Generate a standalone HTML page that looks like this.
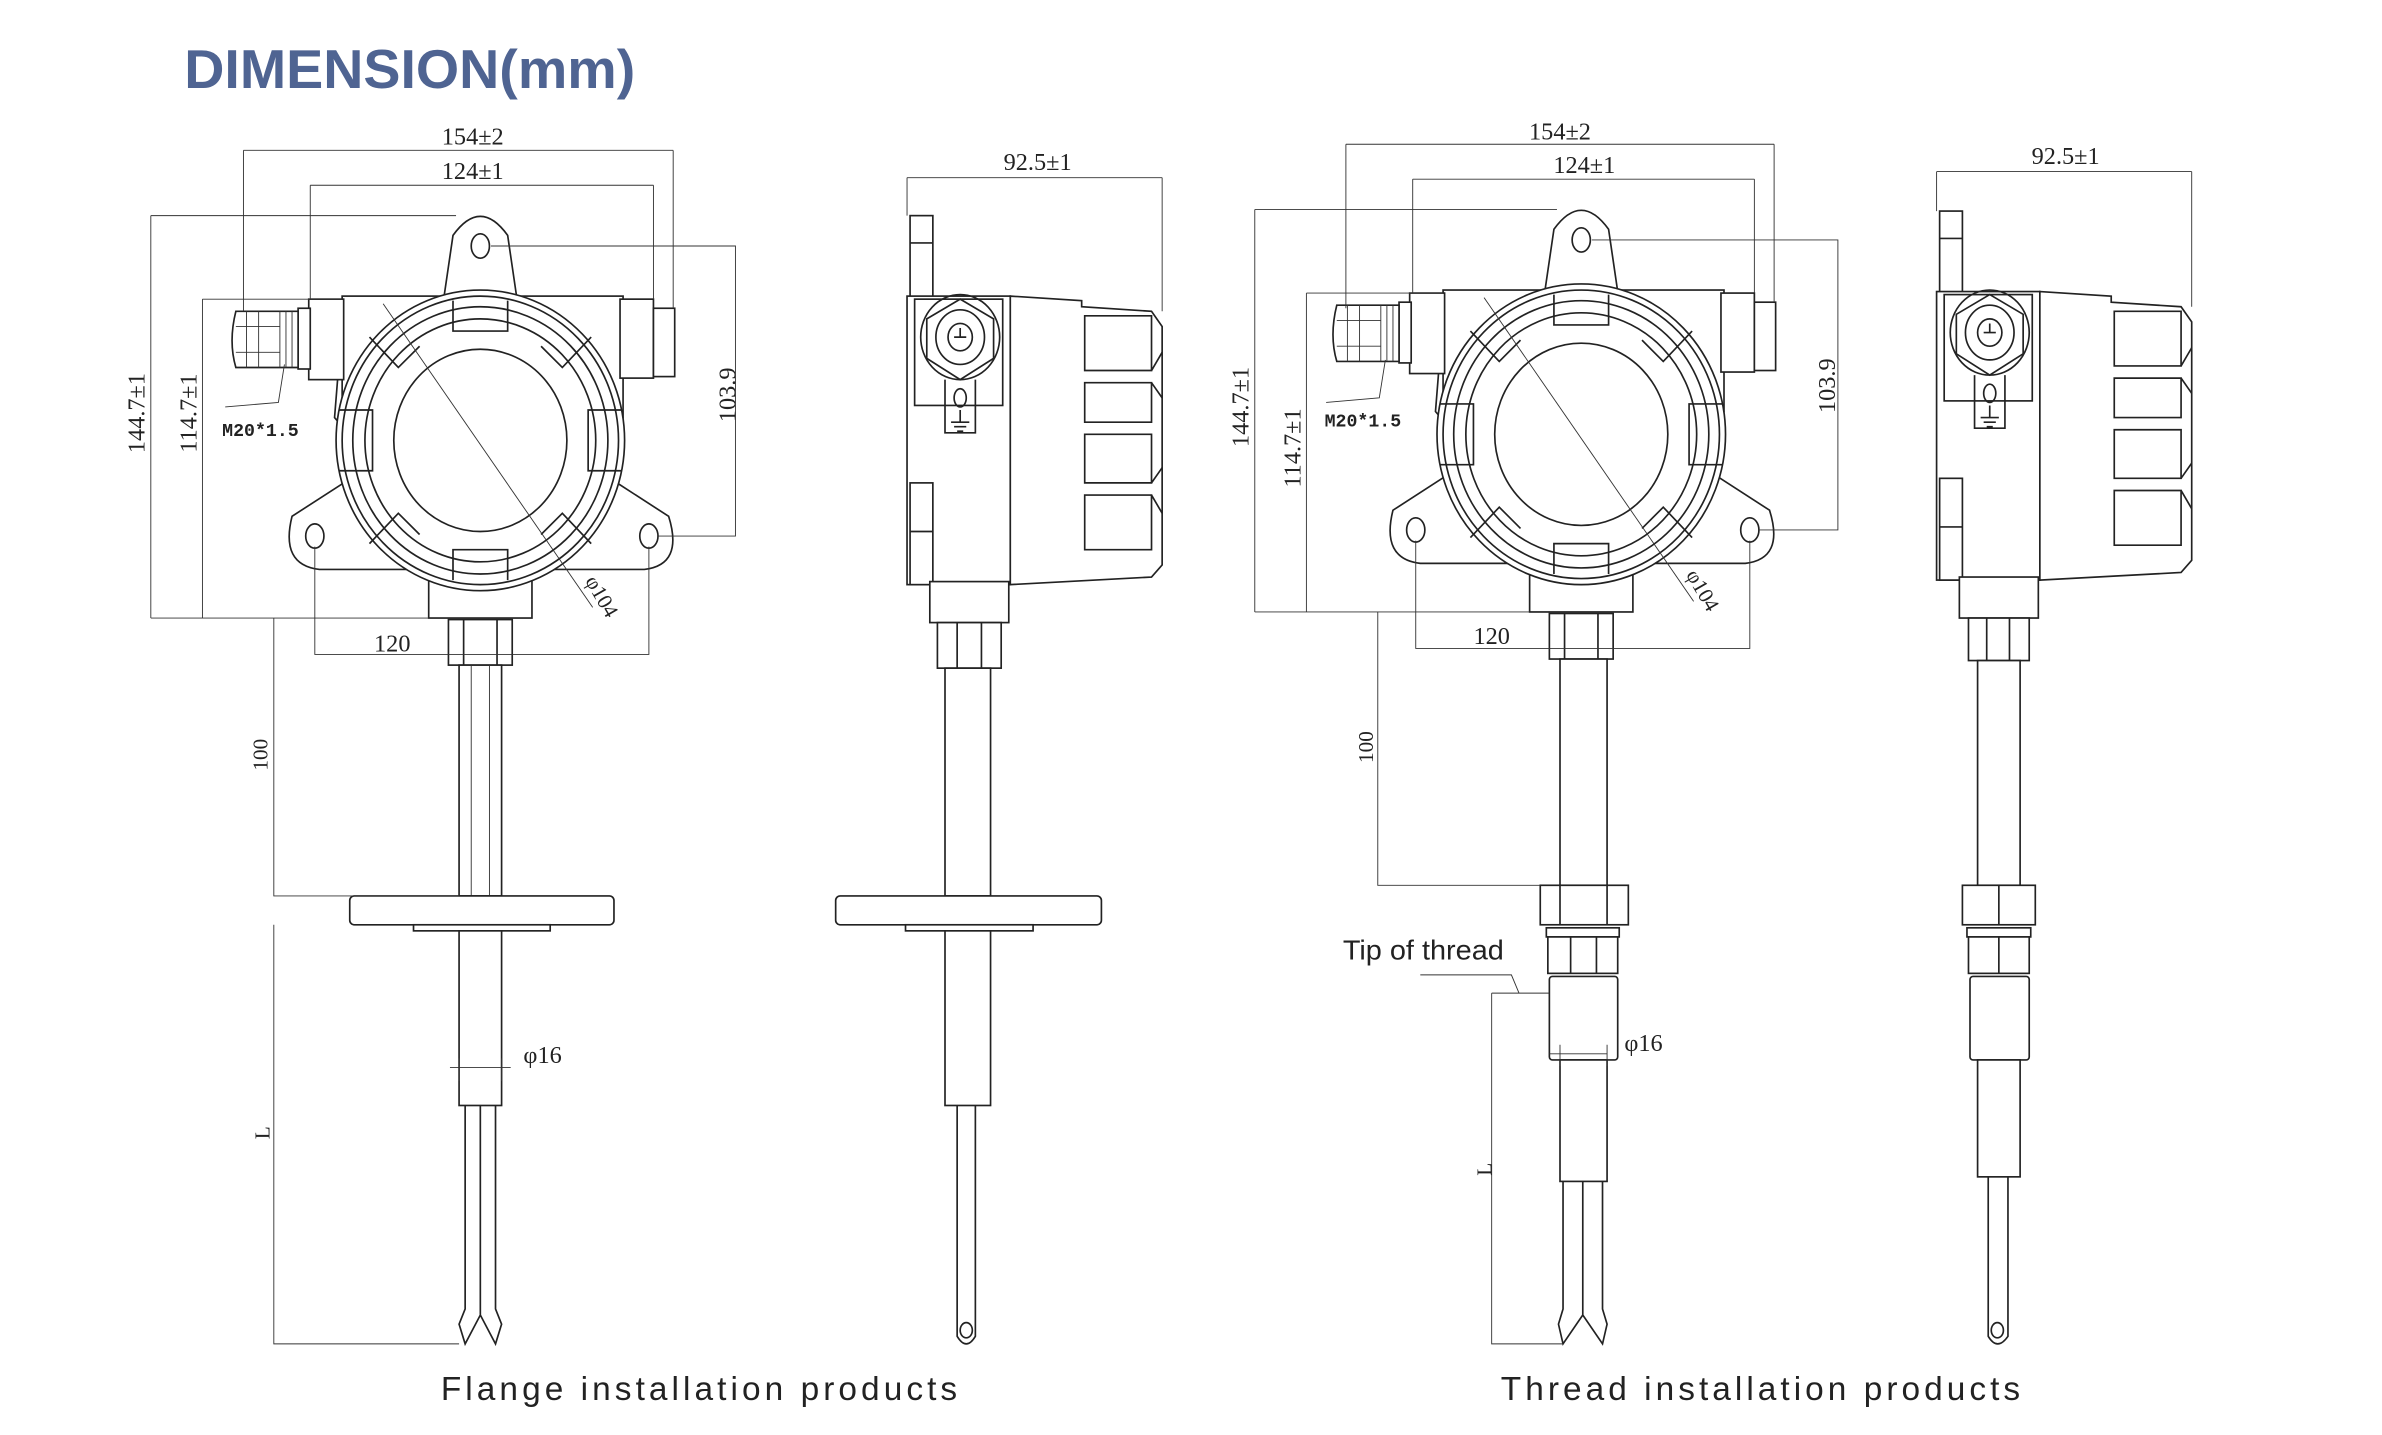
<!DOCTYPE html>
<html><head><meta charset="utf-8"><style>
html,body{margin:0;padding:0;background:#fff;}
svg{display:block;}
text{font-family:"Liberation Serif",serif;fill:#222;}
.s{fill:none;stroke:#222;stroke-width:1.1;}
.t{fill:none;stroke:#333;stroke-width:0.6;}
.w{fill:#fff;stroke:#222;stroke-width:1.1;}
</style></head><body>
<svg width="2382" height="1435" viewBox="0 0 1568 945" xmlns="http://www.w3.org/2000/svg">
<defs>
<g id="fronthead">
  <path class="w" d="M292,196 L298,155 Q316,130 334,155 L340,196 Z"/>
  <ellipse class="s" cx="316" cy="162" rx="6" ry="8"/>
  <path class="w" d="M226,318 L192,340 Q184,372 210,375 L424,375 Q450,372 440,340 L406,318 Z"/>
  <ellipse class="s" cx="207" cy="353" rx="6" ry="8"/>
  <ellipse class="s" cx="427" cy="353" rx="6" ry="8"/>
  <rect class="w" x="225" y="195" width="185" height="80"/>
  <rect class="w" x="408" y="197" width="22" height="52"/>
  <rect class="w" x="430" y="203" width="14" height="45"/>
  <rect class="w" x="203" y="197" width="23" height="53"/>
  <rect class="w" x="196" y="203" width="8" height="40"/>
  <path class="w" d="M155,205 Q150,225 155,242 L196,242 L196,205 Z"/>
  <path class="t" d="M162,205 V242 M170,205 V242 M184,205 V242 M188,205 V242 M192,205 V242 M155,215 H184 M155,232 H184"/>
  <path class="s" d="M222,250 L220,275 L226,282"/>
  <rect class="w" x="282" y="374" width="68" height="33"/>
  <ellipse class="w" cx="316" cy="290" rx="95" ry="99"/>
  <ellipse class="s" cx="316" cy="290" rx="91" ry="95"/>
  <ellipse class="s" cx="316" cy="290" rx="84" ry="88"/>
  <ellipse class="s" cx="316" cy="290" rx="76" ry="80"/>
  <ellipse class="s" cx="316" cy="290" rx="57" ry="60"/>
  <path class="s" d="M298,198 V218 H334 V198 M298,382 V362 H334 V382 M223,270 H245 V310 H223 M409,270 H387 V310 H409 M243,222 L262,242 L276,228 M389,222 L370,242 L356,228 M243,358 L262,338 L276,352 M389,358 L370,338 L356,352"/>
  <line class="t" x1="252" y1="200" x2="390" y2="400"/>
</g>
<g id="sidehead">
  <rect class="w" x="599" y="142" width="15" height="55"/>
  <line class="s" x1="599" y1="160" x2="614" y2="160"/>
  <rect class="w" x="597" y="195" width="68" height="190"/>
  <rect class="w" x="599" y="318" width="15" height="67"/>
  <line class="s" x1="599" y1="350" x2="614" y2="350"/>
  <rect class="s" x="602" y="197" width="58" height="70"/>
  <ellipse class="s" cx="632" cy="222" rx="26" ry="28"/>
  <polygon class="s" points="632,197 654,210 654,236 632,250 610,236 610,210"/>
  <ellipse class="s" cx="632" cy="222" rx="16" ry="18"/>
  <ellipse class="s" cx="632" cy="222" rx="8" ry="9"/>
  <path class="s" d="M628,222 H636 M632,216 V222"/>
  <path class="s" d="M622,250 V285 H642 V250"/>
  <ellipse class="s" cx="632" cy="262" rx="4" ry="6"/>
  <path class="s" d="M632,270 V278 M626,278 H638 M628,281 H636 M630,284 H634"/>
  <path class="w" d="M665,195 L712,198 L712,202 L758,205 L765,215 L765,372 L758,380 L665,385 Z"/>
  <path class="s" d="M714,208 H758 V244 H714 Z M714,252 H758 V278 H714 Z M714,286 H758 V318 H714 Z M714,326 H758 V362 H714 Z M758,244 L765,232 M758,252 L765,262 M758,318 L765,308 M758,326 L765,338"/>
  <rect class="w" x="612" y="383" width="52" height="27"/>
</g>
</defs>

<text x="121" y="58" textLength="297" lengthAdjust="spacingAndGlyphs" style="font-family:'Liberation Sans',sans-serif;font-weight:bold;font-size:36px;fill:#4f6492;">DIMENSION(mm)</text>

<use href="#fronthead"/>
<rect class="w" x="295" y="408" width="42" height="30"/>
<path class="s" d="M305,408 V438 M327,408 V438"/>
<rect class="w" x="302" y="438" width="28" height="152"/>
<path class="t" d="M310,438 V590 M322,438 V590"/>
<rect class="w" x="230" y="590" width="174" height="19" rx="3"/>
<rect class="w" x="272" y="609" width="90" height="4"/>
<rect class="w" x="302" y="613" width="28" height="115"/>
<path class="s" d="M306,728 V862 L302,872 L306,885 L316,866 L326,885 L330,872 L326,862 V728 M316,728 V866"/>
<g class="t">
  <path d="M160,99 H443 M160,99 V205 M443,99 V203"/>
  <path d="M204,122 H430 M204,122 V197 M430,122 V197"/>
  <path d="M99,142 H300 M99,142 V407 M99,407 H282"/>
  <path d="M133,197 H225 M133,197 V407"/>
  <path d="M323,162 H484 V353 H433"/>
  <path d="M207,360 V431 H427 V360"/>
  <path d="M180,407 V590 H302"/>
  <path d="M180,609 V885 H302"/>
  <path d="M296,703 H336 M302,697 V712 M330,697 V712"/>
  <path d="M187,240 L183,265 L148,268"/>
</g>
<text x="311" y="95" font-size="16" text-anchor="middle">154±2</text>
<text x="311" y="118" font-size="16" text-anchor="middle">124±1</text>
<text x="258" y="429" font-size="16" text-anchor="middle">120</text>
<text font-size="16" transform="translate(95,272) rotate(-90)" text-anchor="middle">144.7±1</text>
<text font-size="16" transform="translate(129,272) rotate(-90)" text-anchor="middle">114.7±1</text>
<text font-size="16" transform="translate(484,260) rotate(-90)" text-anchor="middle">103.9</text>
<text font-size="14" transform="translate(176,497) rotate(-90)" text-anchor="middle">100</text>
<text font-size="14" transform="translate(177,746) rotate(-90)" text-anchor="middle">L</text>
<text x="357" y="700" font-size="16" text-anchor="middle">φ16</text>
<text font-size="14" transform="translate(392,395) rotate(60)" text-anchor="middle">φ104</text>
<text x="146" y="287" font-size="12" style="font-family:'Liberation Mono',monospace;font-weight:bold;">M20*1.5</text>

<use href="#sidehead"/>
<rect class="w" x="617" y="410" width="42" height="30"/>
<path class="s" d="M630,410 V440 M646,410 V440"/>
<rect class="w" x="622" y="440" width="30" height="150"/>
<rect class="w" x="550" y="590" width="175" height="19" rx="3"/>
<rect class="w" x="596" y="609" width="84" height="4"/>
<rect class="w" x="622" y="613" width="30" height="115"/>
<path class="s" d="M630,728 V880 Q636,890 642,880 V728"/>
<ellipse class="s" cx="636" cy="876" rx="4" ry="5"/>
<g class="t"><path d="M597,117 H765 M597,117 V142 M765,117 V205"/></g>
<text x="683" y="112" font-size="16" text-anchor="middle">92.5±1</text>

<use href="#fronthead" transform="translate(725,-4)"/>
<rect class="w" x="1020" y="404" width="42" height="30"/>
<path class="s" d="M1030,404 V434 M1052,404 V434"/>
<rect class="w" x="1027" y="434" width="31" height="149"/>
<rect class="w" x="1014" y="583" width="58" height="26"/>
<path class="s" d="M1027,583 V609 M1058,583 V609"/>
<rect class="w" x="1018" y="611" width="48" height="6"/>
<rect class="w" x="1019" y="617" width="46" height="24"/>
<path class="s" d="M1034,617 V641 M1051,617 V641"/>
<rect class="w" x="1020" y="643" width="45" height="55" rx="2"/>
<rect class="w" x="1027" y="698" width="31" height="80"/>
<path class="s" d="M1029,778 V862 L1026,872 L1029,885 L1042,866 L1055,885 L1058,872 L1055,862 V778 M1042,778 V866"/>
<g class="t">
  <path d="M886,95 H1168 M886,95 V203 M1168,95 V199"/>
  <path d="M930,118 H1155 M930,118 V193 M1155,118 V193"/>
  <path d="M826,138 H1025 M826,138 V403 M826,403 H1007"/>
  <path d="M860,193 H950 M860,193 V403"/>
  <path d="M1048,158 H1210 V349 H1158"/>
  <path d="M932,356 V427 H1152 V356"/>
  <path d="M907,403 V583 H1014"/>
  <path d="M982,654 V885 H1029"/>
  <path d="M982,654 H1020 M1000,654 L995,642 H935"/>
  <path d="M1020,694 H1058 M1027,688 V702 M1058,688 V702"/>
  <path d="M912,237 L908,262 L873,265"/>
</g>
<text x="1027" y="92" font-size="16" text-anchor="middle">154±2</text>
<text x="1043" y="114" font-size="16" text-anchor="middle">124±1</text>
<text x="982" y="424" font-size="16" text-anchor="middle">120</text>
<text font-size="16" transform="translate(822,268) rotate(-90)" text-anchor="middle">144.7±1</text>
<text font-size="16" transform="translate(856,295) rotate(-90)" text-anchor="middle">114.7±1</text>
<text font-size="16" transform="translate(1208,254) rotate(-90)" text-anchor="middle">103.9</text>
<text font-size="14" transform="translate(904,492) rotate(-90)" text-anchor="middle">100</text>
<text font-size="14" transform="translate(982,770) rotate(-90)" text-anchor="middle">L</text>
<text x="1082" y="692" font-size="16" text-anchor="middle">φ16</text>
<text font-size="14" transform="translate(1117,391) rotate(60)" text-anchor="middle">φ104</text>
<text x="872" y="281" font-size="12" style="font-family:'Liberation Mono',monospace;font-weight:bold;">M20*1.5</text>
<text x="884" y="632" font-size="18" textLength="106" lengthAdjust="spacingAndGlyphs" style="font-family:'Liberation Sans',sans-serif;">Tip of thread</text>

<use href="#sidehead" transform="translate(678,-3)"/>
<rect class="w" x="1296" y="407" width="40" height="28"/>
<path class="s" d="M1308,407 V435 M1323,407 V435"/>
<rect class="w" x="1302" y="435" width="28" height="148"/>
<rect class="w" x="1292" y="583" width="48" height="26"/>
<line class="s" x1="1316" y1="583" x2="1316" y2="609"/>
<rect class="w" x="1295" y="611" width="42" height="6"/>
<rect class="w" x="1296" y="617" width="40" height="24"/>
<line class="s" x1="1316" y1="617" x2="1316" y2="641"/>
<rect class="w" x="1297" y="643" width="39" height="55" rx="2"/>
<rect class="w" x="1302" y="698" width="28" height="77"/>
<path class="s" d="M1309,775 V880 Q1315,890 1322,880 V775"/>
<ellipse class="s" cx="1315" cy="876" rx="4" ry="5"/>
<g class="t"><path d="M1275,113 H1443 M1275,113 V139 M1443,113 V202"/></g>
<text x="1360" y="108" font-size="16" text-anchor="middle">92.5±1</text>

<text x="290" y="922" font-size="22" textLength="340" lengthAdjust="spacing" style="font-family:'Liberation Sans',sans-serif;">Flange installation products</text>
<text x="988" y="922" font-size="22" textLength="342" lengthAdjust="spacing" style="font-family:'Liberation Sans',sans-serif;">Thread installation products</text>
</svg>
</body></html>
